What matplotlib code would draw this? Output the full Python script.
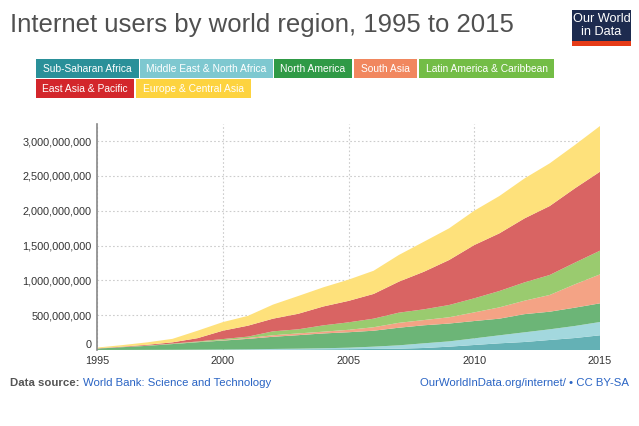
import matplotlib
matplotlib.use("Agg")
import matplotlib.pyplot as plt
from matplotlib.patches import Rectangle
from matplotlib.ticker import FuncFormatter
import numpy as np

plt.rcParams['font.family'] = ['Liberation Sans', 'DejaVu Sans']

years = list(range(1995, 2016))
regions = ["Sub-Saharan Africa", "Middle East & North Africa", "North America",
           "South Asia", "Latin America & Caribbean", "East Asia & Pacific",
           "Europe & Central Asia"]

# cumulative tops (millions)
top_ssa = [0.1, 0.2, 0.5, 1, 1.5, 3, 4, 6, 8, 10, 12, 15, 19, 29, 48, 72, 96, 115, 144, 172, 211]
top_mena = [0.5, 1, 2, 3, 5, 7, 10, 15, 19, 25, 33, 48, 67, 96, 124, 167, 211, 254, 297, 345, 402]
top_na = [20, 40, 60, 85, 112, 135, 160, 190, 213, 238, 255, 277, 320, 355, 380, 416, 450, 515, 550, 608, 670]
top_sa = [20.1, 40.3, 60.7, 86, 114, 140, 172, 212, 238, 263, 290, 327, 390, 430, 470, 540, 612, 708, 790, 943, 1086]
top_lac = [21, 42, 64, 92, 122, 157, 192, 268, 297, 354, 397, 450, 536, 584, 646, 742, 847, 971, 1077, 1254, 1426]
top_eap = [24, 48, 75, 110, 170, 277, 349, 450, 520, 625, 705, 805, 981, 1124, 1292, 1507, 1675, 1890, 2067, 2321, 2560]
top_eca = [35, 70, 110, 160, 277, 400, 490, 652, 775, 900, 1010, 1138, 1364, 1555, 1747, 2000, 2211, 2464, 2680, 2943, 3216]

tops = [top_ssa, top_mena, top_na, top_sa, top_lac, top_eap, top_eca]
layers = []
prev = np.zeros(len(years))
for t in tops:
    t = np.array(t, dtype=float)
    layers.append((t - prev) * 1e6)
    prev = t

legend_colors = ["#2a9099", "#7ec8d0", "#2f9a46", "#f1875f", "#73bd46", "#d3262b", "#fdd33f"]
fill_colors = ["#64b1b5", "#a3d8de", "#6cb577", "#f4a385", "#9acb6f", "#d96463", "#fee17b"]

W, H = 639, 426
fig = plt.figure(figsize=(W / 100, H / 100), dpi=100)

def fx(px):
    return px / W

def fy(py):
    return 1 - py / H

ax = fig.add_axes([fx(97), fy(350), fx(600) - fx(97), fy(124) - fy(350)])
ax.stackplot(years, *layers, colors=fill_colors, linewidth=0, zorder=2)
ax.set_xlim(1995, 2015)
ax.set_ylim(0, 3.245e9)
ax.set_yticks([0, 5e8, 1e9, 1.5e9, 2e9, 2.5e9, 3e9])
ax.yaxis.set_major_formatter(FuncFormatter(lambda v, p: f"{int(v):,}"))
ax.set_xticks([1995, 2000, 2005, 2010, 2015])
ax.tick_params(axis='both', length=0, labelsize=7.8, colors="#333333")
ax.tick_params(axis='y', pad=4)
ax.tick_params(axis='x', pad=4)
for lbl in ax.get_yticklabels():
    pass
for s in ['top', 'right', 'bottom']:
    ax.spines[s].set_visible(False)
ax.spines['left'].set_color("#888888")
ax.spines['left'].set_linewidth(1.2)
ax.grid(True, linestyle=(0, (1.5, 2)), color="#cccccc", linewidth=0.8, zorder=0)
ax.set_axisbelow(True)

# nudge the "0" tick label up a little so it clears "1995"
fig.canvas.draw()
ylabels = ax.get_yticklabels()
if ylabels:
    ylabels[0].set_va('bottom')

# Title
fig.text(fx(10), fy(25), "Internet users by world region, 1995 to 2015",
         fontsize=18.5, color="#505050", va='center', ha='left')

# Logo
fig.patches.append(Rectangle((fx(572), fy(46)), fx(631) - fx(572), fy(10) - fy(46),
                             transform=fig.transFigure, facecolor="#1d2b4f", edgecolor='none'))
fig.patches.append(Rectangle((fx(572), fy(46)), fx(631) - fx(572), fy(41) - fy(46),
                             transform=fig.transFigure, facecolor="#e63b17", edgecolor='none'))
fig.text(fx(601.5), fy(19.5), "Our World", color="white", fontsize=9.2, ha='center', va='center')
fig.text(fx(601.5), fy(32), "in Data", color="white", fontsize=9.2, ha='center', va='center')

# Legend boxes
boxes = [(36, 139, 59, 78), (140, 273, 59, 78), (274, 352, 59, 78), (354, 417, 59, 78),
         (419, 554, 59, 78), (36, 134, 79, 98), (136, 251, 79, 98)]
for (x0, x1, y0, y1), name, c in zip(boxes, regions, legend_colors):
    fig.patches.append(Rectangle((fx(x0), fy(y1)), fx(x1) - fx(x0), fy(y0) - fy(y1),
                                 transform=fig.transFigure, facecolor=c, edgecolor='none'))
    fig.text(fx((x0 + x1) / 2), fy((y0 + y1) / 2 + 0.5), name, color="white", fontsize=7.4,
             ha='center', va='center')

# Footer
t1 = fig.text(fx(10), fy(383), "Data source: ", fontsize=8.2, color="#555555",
              fontweight='bold', ha='left', va='center')
fig.canvas.draw()
bb = t1.get_window_extent()
fig.text(bb.x1 / W, fy(383), "World Bank: Science and Technology", fontsize=8.2,
         color="#2a64c4", ha='left', va='center')
fig.text(fx(629), fy(383), "OurWorldInData.org/internet/ \u2022 CC BY-SA", fontsize=8.2,
         color="#2a64c4", ha='right', va='center')

fig.savefig("out.png", dpi=100)
